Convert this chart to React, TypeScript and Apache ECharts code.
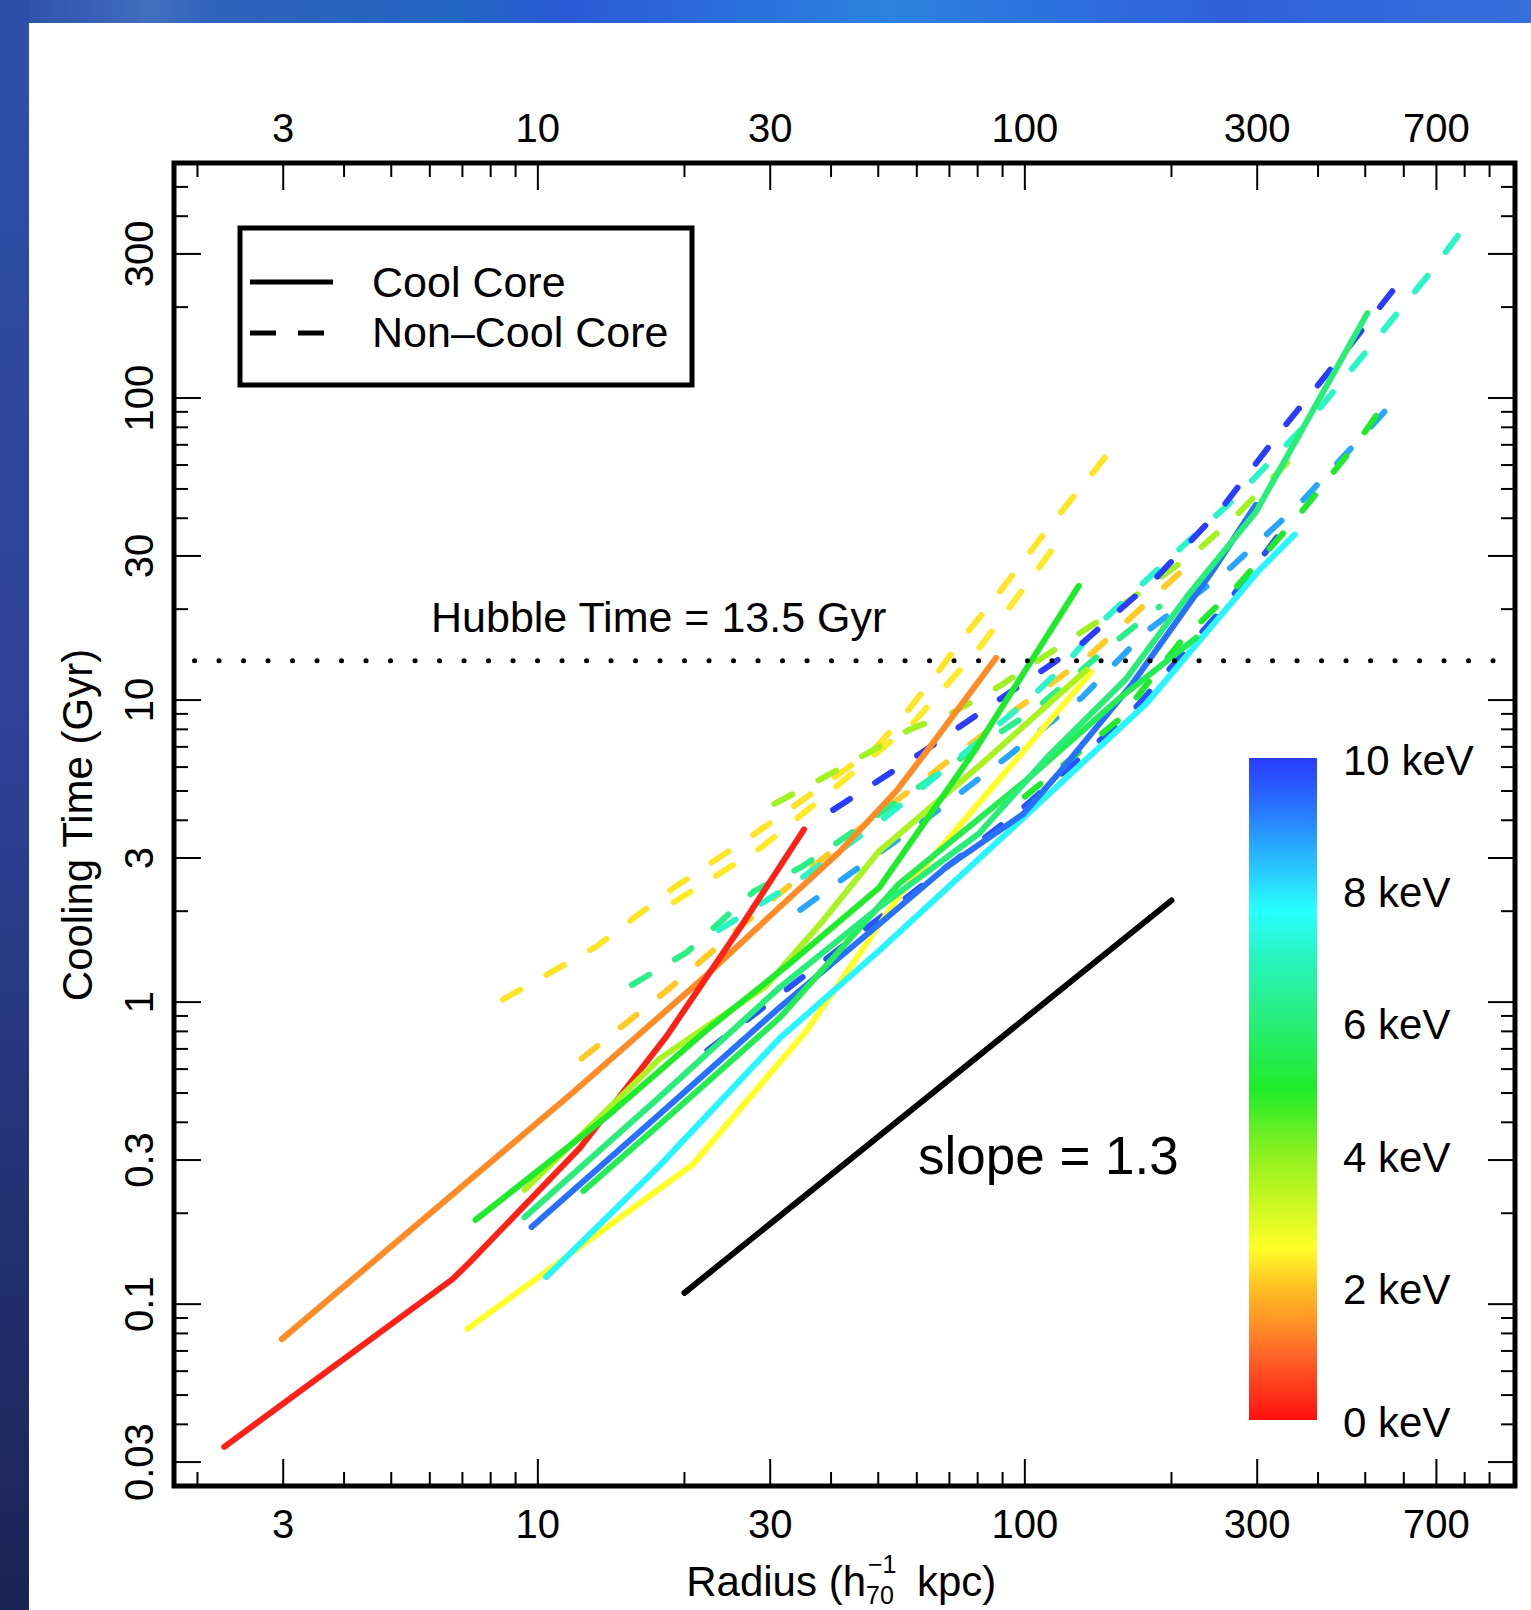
import React, { useEffect, useRef } from "react";
import * as echarts from "echarts";

// ---------- axis ranges & ticks ----------
const X_MIN = 1.79;
const X_MAX = 1015;
const Y_MIN = 0.025;
const Y_MAX = 600;

const xMajorTicks = [3, 10, 30, 100, 300, 700];
const xTickLabels = ["3", "10", "30", "100", "300", "700"];
const xMinorTicks = [2, 4, 5, 6, 7, 8, 9, 20, 40, 50, 60, 70, 80, 90, 200, 400, 500, 600, 800, 900];

const yMajorTicks = [0.03, 0.1, 0.3, 1, 3, 10, 30, 100, 300];
const yTickLabels = ["0.03", "0.1", "0.3", "1", "3", "10", "30", "100", "300"];
const yMinorTicks = [
  0.04, 0.05, 0.06, 0.07, 0.08, 0.09, 0.2, 0.4, 0.5, 0.6, 0.7, 0.8, 0.9,
  2, 4, 5, 6, 7, 8, 9, 20, 40, 50, 60, 70, 80, 90, 200, 400, 500,
];

// ---------- colour scale (keV -> colour) ----------
const keVStops = [0, 1, 1.5, 2, 2.6, 3.3, 4, 5, 6, 7, 7.7, 8.5, 9.3, 10];
const keVColors = [
  "#ff1010", "#ff6628", "#ff9426", "#ffc023", "#ffff28", "#c8f820", "#90f020",
  "#1eec2a", "#28ee78", "#28f4c0", "#28ffff", "#28b8ff", "#2870ff", "#2a3cff",
];
const colorbarTicks = [10, 8, 6, 4, 2, 0];

// ---------- reference lines ----------
const hubbleTime = 13.5;
const slopeLine = [
  [20, 0.109],
  [200, 2.17],
];

// ---------- cool-core profiles [radius kpc, cooling time Gyr] ----------
const redCC = [[2.27, 0.0337], [6.68, 0.121], [7.26, 0.138], [12.2, 0.329], [18.4, 0.773], [26.0, 1.76], [35.2, 3.73]];
const orangeCC = [[2.98, 0.0766], [11.8, 0.502], [22.1, 1.22], [30.3, 1.96], [41.6, 3.14], [54.8, 5.06], [64.7, 7.2], [87.3, 13.8]];
const yellowCC = [[7.17, 0.0828], [20.8, 0.29], [35.6, 0.803], [55.1, 2.24], [137, 12.4]];
const greenCCa = [[7.45, 0.19], [13.8, 0.416], [22.1, 0.803], [33.4, 1.37], [50.2, 2.39], [78.9, 6.81], [129, 23.9]];
const limeCC = [[9.39, 0.239], [17.8, 0.65], [29.4, 1.13], [38.5, 1.86], [50.2, 3.16], [82.8, 6.29], [134, 12.6]];
const springCC = [[9.39, 0.194], [17.8, 0.486], [31.4, 1.12], [50.2, 2.06], [80.4, 3.61], [112, 6.55], [161, 11.7], [217, 22.4], [298, 41.9], [505, 191]];
const greenCCb = [[12.4, 0.237], [17.8, 0.394], [31.4, 0.889], [55.1, 2.46], [100, 5.38], [156, 10.1], [225, 16.1]];
const cyanCC = [[10.4, 0.123], [17.8, 0.288], [31.4, 0.76], [50.2, 1.48], [94.4, 3.78], [177, 9.69], [302, 26.8], [358, 35.3]];
const blueCC = [[9.71, 0.18], [17.8, 0.426], [31.4, 0.962], [50.2, 1.81], [68.8, 2.79], [99.1, 4.19], [117, 5.69], [166, 11.3], [243, 26.8], [298, 44.3]];

// ---------- non-cool-core profiles ----------
const goldNCCa = [[8.48, 1.02], [13.2, 1.53], [19.0, 2.39], [27.7, 3.58], [40.2, 5.47], [49.5, 6.98], [56.5, 8.89], [65.6, 12.1], [75.2, 16.3], [85.7, 21.2], [99.1, 28.8], [114, 38.7], [133, 52.6], [159, 75.5]];
const goldNCCb = [[19.0, 2.14], [28.9, 3.27], [41.0, 5.18], [59.0, 8.41], [80.7, 14.9], [105, 26.4], [122, 36.7]];
const amberNCC = [[12.3, 0.65], [18.5, 1.1], [29.9, 2.15], [45.6, 3.73], [92.9, 8.96], [136, 14.1], [186, 22.4], [218, 28.3]];
const limeNCC = [[30.6, 4.53], [39.1, 5.6], [47.9, 6.71], [57.8, 7.97], [71.2, 9.1], [88.5, 11.1], [127, 16.3], [156, 20.2], [228, 31.6], [272, 40.9], [376, 70.3]];
const greenNCC = [[100, 4.79], [156, 8.62], [208, 15.5], [272, 23.7], [365, 40.9], [486, 72.6], [541, 93.1]];
const springNCC = [[15.6, 1.14], [20.2, 1.46], [27.8, 2.33], [34.9, 2.81], [50.9, 4.26], [75.2, 6.55], [105, 9.31], [148, 14.9], [189, 20.4]];
const aquaNCC = [[23.5, 1.73], [34.4, 2.54], [50.2, 3.94], [73.3, 6.45], [103, 10.2], [121, 13.1], [144, 18.2], [198, 29.4], [272, 47.1], [383, 83.6], [512, 148], [682, 262], [807, 376]];
const skyNCC = [[34.6, 2.02], [42.6, 2.58], [61.5, 3.94], [91.6, 6.45], [131, 10.2], [177, 16.8], [259, 26.6], [365, 44.3], [500, 76.6], [593, 104]];
const blueNCCa = [[40.4, 4.33], [61.5, 6.71], [89.9, 10.2], [131, 15.4], [186, 25.4], [254, 43.3], [337, 78.5], [452, 141], [590, 244]];
const blueNCCb = [[22.3, 0.692], [39.1, 1.39], [56.1, 2.17], [95.7, 4.19], [164, 8.96], [259, 20.7], [347, 38.7]];

const profiles = [
  { data: goldNCCa, keV: 2.35, coolCore: false },
  { data: goldNCCb, keV: 2.4, coolCore: false },
  { data: amberNCC, keV: 2.1, coolCore: false },
  { data: springNCC, keV: 6.2, coolCore: false },
  { data: limeNCC, keV: 3.8, coolCore: false },
  { data: aquaNCC, keV: 7.1, coolCore: false },
  { data: blueNCCa, keV: 10, coolCore: false },
  { data: blueNCCb, keV: 9.7, coolCore: false },
  { data: skyNCC, keV: 8.7, coolCore: false },
  { data: greenNCC, keV: 5.0, coolCore: false },
  { data: orangeCC, keV: 1.4, coolCore: true },
  { data: redCC, keV: 0.2, coolCore: true },
  { data: yellowCC, keV: 2.6, coolCore: true },
  { data: cyanCC, keV: 7.8, coolCore: true },
  { data: blueCC, keV: 9.3, coolCore: true },
  { data: greenCCb, keV: 5.5, coolCore: true },
  { data: limeCC, keV: 3.7, coolCore: true },
  { data: springCC, keV: 6.0, coolCore: true },
  { data: greenCCa, keV: 5.0, coolCore: true },
];

const FONT = '"Liberation Sans", Arial, Helvetica, sans-serif';

function hexToRgb(h: string) {
  const n = parseInt(h.slice(1), 16);
  return [(n >> 16) & 255, (n >> 8) & 255, n & 255];
}
function tempColor(t: number) {
  for (let i = 0; i < keVStops.length - 1; i++) {
    if (t <= keVStops[i + 1]) {
      const f = (t - keVStops[i]) / (keVStops[i + 1] - keVStops[i]);
      const a = hexToRgb(keVColors[i]);
      const b = hexToRgb(keVColors[i + 1]);
      const c = a.map((v, k) => Math.round(v + (b[k] - v) * f));
      return `rgb(${c[0]},${c[1]},${c[2]})`;
    }
  }
  return keVColors[keVColors.length - 1];
}

function buildOption() {
  const lineSeries = profiles.map((p) => ({
    type: "line",
    data: p.data,
    symbol: "none",
    silent: true,
    z: p.coolCore ? 4 : 3,
    lineStyle: {
      color: tempColor(p.keV),
      width: 6,
      type: p.coolCore ? "solid" : [20, 30],
      cap: "round",
      join: "round",
    },
  }));

  const xTickData = [
    ...xMajorTicks.map((v) => [v, 1, 1]),
    ...xMinorTicks.map((v) => [v, 1, 0]),
  ];
  const yTickData = [
    ...yMajorTicks.map((v) => [10, v, 1]),
    ...yMinorTicks.map((v) => [10, v, 0]),
  ];

  const tickStyle = { stroke: "#000", lineWidth: 2 };

  const xTickSeries = {
    type: "custom",
    coordinateSystem: "cartesian2d",
    silent: true,
    clip: false,
    z: 10,
    data: xTickData,
    renderItem: (params: any, api: any) => {
      const cs = params.coordSys;
      const x = api.coord([api.value(0), 1])[0];
      const L = api.value(2) ? 27 : 14;
      const b = cs.y + cs.height;
      return {
        type: "group",
        children: [
          { type: "line", shape: { x1: x, y1: b, x2: x, y2: b - L }, style: tickStyle },
          { type: "line", shape: { x1: x, y1: cs.y, x2: x, y2: cs.y + L }, style: tickStyle },
        ],
      };
    },
  };
  const yTickSeries = {
    type: "custom",
    coordinateSystem: "cartesian2d",
    silent: true,
    clip: false,
    z: 10,
    data: yTickData,
    renderItem: (params: any, api: any) => {
      const cs = params.coordSys;
      const y = api.coord([10, api.value(1)])[1];
      const L = api.value(2) ? 27 : 14;
      const r = cs.x + cs.width;
      return {
        type: "group",
        children: [
          { type: "line", shape: { x1: cs.x, y1: y, x2: cs.x + L, y2: y }, style: tickStyle },
          { type: "line", shape: { x1: r, y1: y, x2: r - L, y2: y }, style: tickStyle },
        ],
      };
    },
  };
  const xLabelSeries = {
    type: "custom",
    coordinateSystem: "cartesian2d",
    silent: true,
    clip: false,
    z: 10,
    data: xMajorTicks.map((v) => [v, 1]),
    renderItem: (params: any, api: any) => {
      const cs = params.coordSys;
      const x = api.coord([api.value(0), 1])[0];
      const txt = xTickLabels[params.dataIndex];
      const st = { text: txt, fill: "#000", fontSize: 40, fontFamily: FONT, align: "center", verticalAlign: "middle" };
      return {
        type: "group",
        children: [
          { type: "text", x: x, y: cs.y + cs.height + 38, style: st },
          { type: "text", x: x, y: cs.y - 35, style: st },
        ],
      };
    },
  };
  const yLabelSeries = {
    type: "custom",
    coordinateSystem: "cartesian2d",
    silent: true,
    clip: false,
    z: 10,
    data: yMajorTicks.map((v) => [10, v]),
    renderItem: (params: any, api: any) => {
      const cs = params.coordSys;
      const y = api.coord([10, api.value(1)])[1];
      const txt = yTickLabels[params.dataIndex];
      return {
        type: "text",
        x: cs.x - 35,
        y: y,
        rotation: Math.PI / 2,
        style: { text: txt, fill: "#000", fontSize: 40, fontFamily: FONT, align: "center", verticalAlign: "middle" },
      };
    },
  };

  const hubbleSeries = {
    type: "line",
    data: [
      [X_MIN, hubbleTime],
      [X_MAX, hubbleTime],
    ],
    symbol: "none",
    silent: true,
    z: 5,
    lineStyle: { color: "#000", width: 5, type: [0.1, 24.4], dashOffset: 4, cap: "round" },
  };
  const slopeSeries = {
    type: "line",
    data: slopeLine,
    symbol: "none",
    silent: true,
    z: 5,
    lineStyle: { color: "#000", width: 6, cap: "round" },
  };

  // colour bar
  const barX = 1249, barTop = 758, barW = 68, barH = 662;
  const gradStops = keVStops
    .map((k, i) => ({ offset: 1 - k / 10, color: keVColors[i] }))
    .sort((a, b) => a.offset - b.offset);

  const graphics: any[] = [
    {
      type: "rect",
      z: 1,
      shape: { x: 0, y: 0, width: 1531, height: 23 },
      style: {
        fill: new echarts.graphic.LinearGradient(0, 0, 1, 0, [
          { offset: 0, color: "#2d4ea8" },
          { offset: 0.07, color: "#3a63b8" },
          { offset: 0.1, color: "#4270c0" },
          { offset: 0.14, color: "#2f62bb" },
          { offset: 0.3, color: "#2266c4" },
          { offset: 0.37, color: "#2a5ad6" },
          { offset: 0.58, color: "#2c82e0" },
          { offset: 0.8, color: "#2f60da" },
          { offset: 1, color: "#3670da" },
        ]),
      },
    },
    {
      type: "rect",
      z: 1,
      shape: { x: 0, y: 0, width: 29, height: 1610 },
      style: {
        fill: new echarts.graphic.LinearGradient(0, 0, 0, 1, [
          { offset: 0, color: "#2f50aa" },
          { offset: 0.5, color: "#2c4092" },
          { offset: 1, color: "#1b2354" },
        ]),
      },
    },
    // legend
    {
      type: "rect",
      z: 20,
      shape: { x: 240, y: 228, width: 452, height: 157 },
      style: { fill: "#fff", stroke: "#000", lineWidth: 5 },
    },
    { type: "line", z: 21, shape: { x1: 250, y1: 282, x2: 333, y2: 282 }, style: { stroke: "#000", lineWidth: 5 } },
    { type: "line", z: 21, shape: { x1: 250, y1: 333, x2: 325, y2: 333 }, style: { stroke: "#000", lineWidth: 5, lineDash: [26, 22] } },
    { type: "text", z: 21, x: 372, y: 282, style: { text: "Cool Core", fontSize: 43, fontFamily: FONT, fill: "#000", verticalAlign: "middle" } },
    { type: "text", z: 21, x: 372, y: 332, style: { text: "Non\u2013Cool Core", fontSize: 43, fontFamily: FONT, fill: "#000", verticalAlign: "middle" } },
    // annotations
    { type: "text", z: 21, x: 431, y: 617, style: { text: "Hubble Time = 13.5 Gyr", fontSize: 43, fontFamily: FONT, fill: "#000", verticalAlign: "middle" } },
    { type: "text", z: 21, x: 918, y: 1155, style: { text: "slope = 1.3", fontSize: 53, fontFamily: FONT, fill: "#000", verticalAlign: "middle" } },
    // colour bar
    {
      type: "rect",
      z: 20,
      shape: { x: barX, y: barTop, width: barW, height: barH },
      style: { fill: new echarts.graphic.LinearGradient(0, 0, 0, 1, gradStops) },
    },
    ...colorbarTicks.map((k) => ({
      type: "text",
      z: 21,
      x: 1343,
      y: barTop + barH - (k / 10) * barH + 2,
      style: { text: `${k} keV`, fontSize: 42, fontFamily: FONT, fill: "#000", verticalAlign: "middle" },
    })),
    // axis titles
    {
      type: "text",
      z: 21,
      x: 77,
      y: 825,
      rotation: Math.PI / 2,
      style: { text: "Cooling Time (Gyr)", fontSize: 42, fontFamily: FONT, fill: "#000", align: "center", verticalAlign: "middle" },
    },
    { type: "text", z: 21, x: 866, y: 1581, style: { text: "Radius (h", fontSize: 42, fontFamily: FONT, fill: "#000", align: "right", verticalAlign: "middle" } },
    { type: "text", z: 21, x: 868, y: 1564, style: { text: "\u22121", fontSize: 25, fontFamily: FONT, fill: "#000", verticalAlign: "middle" } },
    { type: "text", z: 21, x: 866, y: 1595, style: { text: "70", fontSize: 25, fontFamily: FONT, fill: "#000", verticalAlign: "middle" } },
    { type: "text", z: 21, x: 917, y: 1581, style: { text: "kpc)", fontSize: 42, fontFamily: FONT, fill: "#000", verticalAlign: "middle" } },
  ];

  return {
    animation: false,
    backgroundColor: "#ffffff",
    grid: {
      left: 174,
      top: 163,
      width: 1341,
      height: 1323,
      show: true,
      borderColor: "#000",
      borderWidth: 5,
      backgroundColor: "transparent",
      containLabel: false,
    },
    xAxis: {
      type: "log",
      logBase: 10,
      min: X_MIN,
      max: X_MAX,
      axisLine: { show: false },
      axisTick: { show: false },
      axisLabel: { show: false },
      splitLine: { show: false },
    },
    yAxis: {
      type: "log",
      logBase: 10,
      min: Y_MIN,
      max: Y_MAX,
      axisLine: { show: false },
      axisTick: { show: false },
      axisLabel: { show: false },
      splitLine: { show: false },
    },
    graphic: graphics,
    series: [...lineSeries, hubbleSeries, slopeSeries, xTickSeries, yTickSeries, xLabelSeries, yLabelSeries],
  };
}

export default function App() {
  const ref = useRef<HTMLDivElement>(null);
  useEffect(() => {
    const chart = echarts.init(ref.current as HTMLDivElement, null, { renderer: "svg" });
    chart.setOption(buildOption() as any);
    return () => chart.dispose();
  }, []);
  return (
    <div
      ref={ref}
      style={{ position: "absolute", left: 0, top: 0, width: 1531, height: 1610 }}
    />
  );
}
